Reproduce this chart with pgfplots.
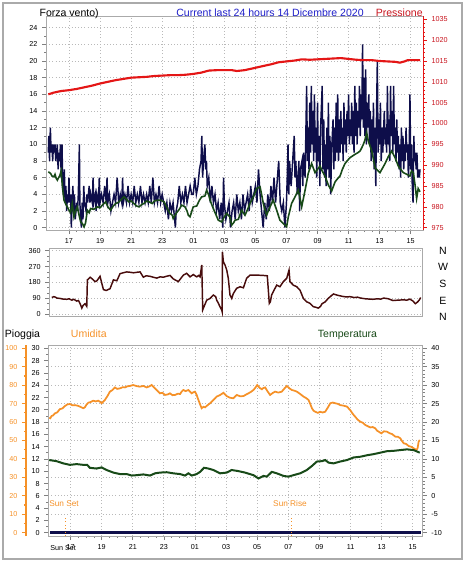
\documentclass[border=0pt]{standalone}
\usepackage{pgfplots}
\pgfplotsset{compat=1.18}
\usepackage{fontspec}
\setmainfont{Liberation Sans}
\definecolor{navyc}{RGB}{14,14,74}
\definecolor{greenc}{RGB}{24,74,24}
\definecolor{redc}{RGB}{228,22,22}
\definecolor{redt}{RGB}{200,20,30}
\definecolor{bluet}{RGB}{30,30,200}
\definecolor{brownc}{RGB}{72,12,12}
\definecolor{orangec}{RGB}{245,145,40}
\definecolor{gframe}{RGB}{170,170,170}
\definecolor{gridc}{RGB}{185,185,185}
\newcommand{\ticksz}{\fontsize{5.4}{6}\selectfont}
\newcommand{\titsz}{\fontsize{7.9}{9}\selectfont}
\newcommand{\sunsz}{\fontsize{6.2}{7}\selectfont}
\pgfplotsset{
  base/.style={scale only axis, anchor=north west,
    tick align=outside, major tick length=3pt, minor tick length=1.5pt,
    tick style={line width=0.5pt},
    tick label style={font=\ticksz},
    major grid style={dotted, gridc, line width=0.6pt},
    axis line style={draw=gframe, line width=0.6pt}},
}
\begin{document}
\begin{tikzpicture}
\useasboundingbox (0,0) rectangle (348.75pt,-421.5pt);
\draw[gframe, line width=0.9pt] (2.25pt,-2.25pt) rectangle (346.5pt,-419.25pt);
% ---------------- top panel: wind ----------------
\begin{axis}[base, at={(34.5pt,-12pt)}, width=282.75pt, height=160.5pt,
  xmin=15.52, xmax=39.79, ymin=-0.28, ymax=25.4,
  xtick={17,19,...,39}, xticklabels={17,19,21,23,01,03,05,07,09,11,13,15},
  minor x tick num=3,
  ytick={0,2,...,24}, yticklabels={0,2,4,6,8,10,12,14,16,18,20,22,24},
  minor y tick num=1, xtick pos=bottom, ytick pos=left, grid=major]
\addplot[navyc, line width=1.1pt] table[row sep=\\]{x y\\
15.67 9\\15.7 11\\15.75 8\\15.8 12\\15.85 9\\15.9 10\\15.95 8\\16.0 10\\16.05 9\\16.1 10\\16.15 8\\16.2 9\\16.25 10\\16.3 7\\16.35 9\\16.4 8\\16.45 10\\16.5 6\\16.55 10\\16.6 5\\16.65 4\\16.7 7\\16.75 3\\16.8 5\\16.85 2\\16.9 4\\16.95 3\\
17.0 6\\17.05 3\\17.1 4\\17.15 0\\17.2 3\\17.25 5\\17.3 2\\17.35 4\\17.4 1\\17.5 3\\17.55 2\\17.6 4\\17.67 10\\17.7 3\\17.75 1\\17.8 0\\17.85 3\\17.9 1\\17.95 5\\18.0 3\\18.1 2\\18.15 4\\18.2 3\\18.3 5\\18.35 3\\18.4 4\\18.5 3\\18.55 6\\18.6 3\\18.7 4\\18.75 2\\18.8 4\\18.9 3\\18.95 6\\
19.0 3\\19.1 4\\19.2 3\\19.3 5\\19.4 3\\19.45 6\\19.5 3\\19.6 4\\19.7 2\\19.8 3\\19.9 4\\20.0 3\\20.1 6\\20.2 3\\20.3 4\\20.4 3\\20.45 6\\20.5 3\\20.6 4\\20.7 3\\20.8 5\\20.9 3\\21.0 4\\21.1 3\\21.2 5\\21.3 3\\21.4 4\\21.5 3\\21.6 5\\21.7 3\\21.8 4\\21.9 3\\22.0 4\\22.1 3\\22.2 5\\22.3 3\\22.4 6\\22.5 3\\22.6 4\\22.7 3\\22.8 5\\22.9 3\\
23.0 4\\23.1 3\\23.2 2\\23.3 3\\23.4 1\\23.5 3\\23.6 2\\23.7 3\\23.85 0\\23.9 2\\24.0 3\\24.1 5\\24.2 3\\24.3 4\\24.4 3\\24.5 5\\24.6 3\\24.7 4\\24.8 5\\24.9 4\\25.0 4\\25.1 6\\25.2 4\\25.3 5\\25.4 7\\25.5 8\\25.55 11\\25.6 6\\25.7 9\\25.75 10\\25.8 7\\25.85 8\\25.9 5\\26.0 6\\26.1 3\\26.2 5\\26.3 3\\26.4 4\\26.5 2\\26.6 3\\26.7 1\\26.8 3\\26.9 0\\26.95 6\\
27.0 3\\27.1 1\\27.2 2\\27.3 3\\27.4 0\\27.5 2\\27.6 3\\27.7 1\\27.8 4\\27.9 2\\28.0 3\\28.1 1\\28.2 4\\28.3 2\\28.4 3\\28.5 4\\28.6 2\\28.7 5\\28.8 3\\28.9 4\\29.0 5\\29.1 3\\29.2 7\\29.3 4\\29.4 2\\29.5 0\\29.6 3\\29.7 1\\29.8 4\\29.9 2\\30.0 5\\30.1 3\\30.2 6\\30.3 3\\30.5 8\\30.6 3\\30.7 2\\30.8 3\\30.9 0\\
31.0 3\\31.05 6\\31.1 10\\31.15 4\\31.2 8\\31.3 5\\31.4 8\\31.5 11\\31.55 6\\31.6 8\\31.7 4\\31.8 8\\31.85 2\\31.9 7\\32.0 8\\32.05 5\\32.1 9\\32.2 6\\32.3 17\\32.35 8\\32.4 12\\32.45 7\\32.5 15\\32.55 9\\32.6 17\\32.65 10\\32.7 14\\32.75 8\\32.8 16\\32.85 9\\32.9 12\\32.95 6\\
33.0 15\\33.05 8\\33.1 11\\33.15 5\\33.2 12\\33.3 17\\33.35 7\\33.4 13\\33.45 6\\33.5 10\\33.55 5\\33.6 12\\33.65 7\\33.7 15\\33.75 6\\33.8 11\\33.85 4\\33.9 9\\34.0 13\\34.05 7\\34.1 12\\34.15 8\\34.2 15\\34.25 9\\34.3 16\\34.35 8\\34.4 13\\34.45 9\\34.5 14\\34.55 10\\34.6 12\\34.65 8\\34.7 15\\34.75 10\\34.8 13\\34.85 9\\34.9 14\\34.95 11\\
35.0 16\\35.05 10\\35.1 13\\35.15 11\\35.2 15\\35.25 10\\35.3 14\\35.35 9\\35.4 17\\35.45 11\\35.5 15\\35.55 10\\35.6 14\\35.65 12\\35.7 17\\35.75 11\\35.8 16\\35.85 13\\35.9 22\\35.95 12\\36.0 18\\36.05 11\\36.1 19\\36.15 10\\36.2 15\\36.25 12\\36.3 16\\36.35 10\\36.4 14\\36.45 8\\36.5 13\\36.55 9\\36.6 15\\36.65 7\\36.7 12\\36.75 5\\36.8 14\\36.85 20\\36.9 9\\36.95 13\\
37.0 10\\37.05 15\\37.1 8\\37.15 12\\37.2 9\\37.3 14\\37.35 10\\37.4 12\\37.45 9\\37.5 17\\37.55 10\\37.6 13\\37.65 8\\37.7 17\\37.75 11\\37.8 14\\37.85 9\\37.9 17\\37.95 10\\38.0 12\\38.05 8\\38.1 13\\38.15 9\\38.2 11\\38.25 7\\38.3 10\\38.35 6\\38.4 12\\38.45 8\\38.5 11\\38.55 7\\38.6 10\\38.65 8\\38.7 12\\38.75 9\\38.8 10\\38.85 6\\38.9 9\\38.95 16\\39.0 7\\39.05 10\\39.1 5\\39.15 3\\39.2 11\\39.25 8\\39.3 9\\39.35 7\\39.4 9\\39.45 6\\39.5 7\\39.55 6\\39.6 7\\
};
\addplot[greenc, line width=1.2pt] table[row sep=\\]{x y\\
15.67 6.7\\15.75 6.6\\15.82 6.5\\15.9 6.2\\16.03 6.1\\16.1 6.4\\16.18 5.9\\16.25 5.7\\16.33 6.0\\16.4 6.2\\16.5 6.8\\16.57 5.0\\16.68 3.3\\16.8 2.8\\16.89 2.5\\17.0 2.1\\17.1 1.8\\17.21 2.9\\17.32 1.3\\17.42 2.0\\17.54 2.5\\17.65 1.5\\17.75 0.7\\17.86 0.5\\17.97 0.1\\18.07 0.6\\18.18 2.1\\18.3 1.8\\18.39 2.3\\18.6 2.2\\18.82 2.5\\19.0 2.4\\19.15 2.7\\19.36 3.1\\19.5 2.5\\19.68 2.1\\19.85 2.6\\20.0 2.9\\20.15 3.0\\20.33 3.3\\20.54 3.7\\20.7 3.4\\20.86 3.1\\21.0 3.2\\21.18 2.9\\21.35 2.6\\21.51 2.5\\21.7 2.8\\21.83 2.9\\22.0 3.2\\22.15 3.1\\22.36 2.9\\22.5 3.2\\22.69 3.3\\22.9 3.3\\23.12 3.1\\23.33 2.3\\23.5 1.7\\23.65 1.5\\23.71 1.1\\23.93 1.8\\24.1 2.2\\24.25 2.7\\24.47 2.5\\24.6 2.0\\24.68 1.5\\24.79 1.3\\25.0 2.5\\25.22 2.6\\25.4 3.3\\25.54 3.7\\25.75 3.8\\25.86 4.5\\26.0 3.9\\26.08 3.3\\26.29 2.3\\26.45 1.6\\26.61 0.9\\26.83 0.7\\27.0 1.3\\27.15 1.7\\27.36 1.3\\27.47 0.3\\27.6 0.6\\27.69 0.9\\27.9 1.0\\28.11 2.1\\28.33 1.5\\28.5 2.2\\28.65 2.9\\28.87 3.7\\29.08 4.7\\29.3 4.9\\29.4 4.0\\29.51 2.9\\29.72 1.5\\29.94 2.5\\30.15 3.3\\30.37 2.1\\30.58 0.9\\30.8 0.5\\31.01 0.1\\31.12 1.3\\31.33 2.9\\31.55 3.7\\31.76 4.5\\31.9 3.3\\31.98 2.5\\32.2 4.5\\32.4 6.5\\32.62 7.7\\32.84 6.6\\33.0 7.0\\33.16 7.4\\33.3 6.8\\33.48 6.2\\33.7 5.1\\33.91 4.4\\34.13 5.5\\34.3 5.9\\34.45 6.2\\34.6 7.0\\34.77 7.7\\34.9 8.0\\35.09 8.4\\35.25 8.6\\35.41 8.8\\35.6 9.0\\35.74 9.2\\35.85 9.6\\35.95 10.0\\36.05 10.5\\36.16 11.4\\36.27 10.4\\36.38 9.8\\36.49 9.2\\36.6 8.2\\36.7 7.2\\36.85 6.9\\37.02 6.6\\37.2 7.2\\37.35 7.7\\37.55 8.5\\37.77 9.2\\37.88 8.8\\37.99 8.4\\38.2 7.4\\38.35 7.0\\38.53 6.6\\38.75 6.4\\38.95 6.2\\39.05 6.8\\39.17 6.6\\39.28 5.1\\39.38 3.5\\39.48 4.7\\39.6 4.3\\
};
\end{axis}
\begin{axis}[base, at={(34.5pt,-12pt)}, width=282.75pt, height=160.5pt,
  xmin=15.52, xmax=39.79, ymin=974.44, ymax=1025.8,
  axis x line=none, axis y line*=right,
  y axis line style={draw=redc, line width=0.6pt},
  ytick={975,980,...,1025}, yticklabels={975,980,985,990,995,1000,1005,1010,1015,1020,1035},
  minor y tick num=4, ytick style={redc}, yticklabel style={text=redt}]
\addplot[redc, line width=1.6pt] table[row sep=\\]{x y\\
15.67 1007.0\\16.0 1007.4\\16.5 1007.8\\17.0 1008.0\\17.5 1008.3\\18.0 1008.7\\18.5 1009.1\\19.0 1009.6\\19.5 1010.0\\20.0 1010.4\\20.5 1010.7\\21.0 1011.0\\21.5 1011.1\\22.0 1011.2\\22.5 1011.4\\23.0 1011.5\\23.5 1011.6\\24.0 1011.6\\24.5 1011.7\\25.0 1011.9\\25.5 1012.2\\26.0 1012.7\\26.5 1012.8\\27.0 1012.8\\27.5 1012.8\\27.8 1012.6\\28.3 1012.8\\28.8 1013.2\\29.5 1013.8\\30.0 1014.2\\30.5 1014.7\\31.0 1014.9\\31.5 1015.1\\32.0 1015.4\\32.5 1015.3\\33.0 1015.4\\33.5 1015.5\\34.0 1015.6\\34.5 1015.7\\35.0 1015.5\\35.5 1015.3\\36.0 1015.2\\36.5 1015.2\\37.0 1015.0\\37.5 1014.9\\38.0 1014.8\\38.3 1014.6\\38.6 1014.9\\38.8 1015.2\\39.2 1015.2\\39.6 1015.2\\
};
\end{axis}
% ---------------- middle panel: wind direction ----------------
\begin{axis}[base, at={(36.975pt,-186.225pt)}, width=280.05pt, height=50.775pt,
  xmin=15.51, xmax=39.73, ymin=-9.6, ymax=373.6,
  xtick=\empty, ytick={0,90,180,270,360}, yticklabels={0,90,180,270,360},
  minor y tick num=2, ytick pos=left, ymajorgrids]
\addplot[brownc, line width=1.1pt] table[row sep=\\]{x y\\
15.67 95\\15.8 100\\15.89 98\\16.0 92\\16.21 90\\16.4 86\\16.64 85\\16.8 88\\16.97 80\\17.1 85\\17.29 75\\17.4 78\\17.51 60\\17.62 35\\17.7 50\\17.83 60\\17.94 45\\17.98 195\\18.05 200\\18.16 210\\18.3 200\\18.48 185\\18.6 190\\18.8 215\\19.02 140\\19.2 135\\19.45 145\\19.67 195\\19.89 190\\20.1 230\\20.3 235\\20.53 240\\20.75 238\\20.97 235\\21.2 238\\21.4 240\\21.61 210\\21.8 218\\22.05 215\\22.25 210\\22.48 205\\22.7 212\\22.91 210\\23.1 215\\23.34 220\\23.56 200\\23.88 185\\24.1 210\\24.21 222\\24.42 232\\24.64 212\\24.85 225\\25.07 212\\25.2 220\\25.29 212\\25.4 279\\25.46 25\\25.5 34\\25.72 80\\25.94 90\\26.15 109\\26.3 100\\26.37 80\\26.48 62\\26.58 43\\26.69 25\\26.72 15\\26.74 354\\26.8 298\\26.91 279\\27.02 250\\27.12 204\\27.23 109\\27.34 90\\27.45 118\\27.66 147\\27.88 156\\28.1 150\\28.31 204\\28.53 222\\28.96 222\\29.39 220\\29.65 218\\29.78 62\\29.85 71\\29.93 109\\30.15 147\\30.26 165\\30.47 156\\30.69 185\\30.91 204\\31.06 250\\31.12 185\\31.34 165\\31.56 156\\31.77 137\\31.99 90\\32.2 71\\32.42 62\\32.64 43\\32.8 40\\32.96 35\\33.1 45\\33.2 60\\33.4 70\\33.6 90\\33.8 105\\33.94 115\\34.2 108\\34.5 102\\34.8 98\\35.0 100\\35.3 95\\35.5 97\\35.7 92\\36.0 88\\36.3 86\\36.5 85\\36.8 88\\37.0 86\\37.2 92\\37.5 88\\37.8 78\\38.1 80\\38.5 82\\38.7 80\\38.9 86\\39.1 75\\39.25 60\\39.4 70\\39.5 80\\39.6 95\\
};
\end{axis}
% ---------------- bottom panel ----------------
\begin{axis}[base, at={(36.225pt,-258.75pt)}, width=280.8pt, height=143.25pt,
  xmin=15.57, xmax=39.64, ymin=-1.8, ymax=101.8,
  axis line style={draw=none}, xtick={17,19,...,39}, ytick={0,10,...,100},
  xticklabels={}, yticklabels={}, major tick length=0pt, grid=major]
\addplot[orangec, line width=1.3pt] table[row sep=\\]{x y\\
15.63 62.4\\15.7 62.1\\15.78 63.3\\15.88 63.6\\15.99 64.7\\16.15 65.3\\16.31 67\\16.48 67.4\\16.64 68.7\\16.8 69.6\\16.96 69.8\\17.12 69.1\\17.28 69.2\\17.45 68.9\\17.6 68.4\\17.82 67.5\\17.92 68\\18.03 69.5\\18.14 70.5\\18.3 70.9\\18.46 71.6\\18.62 71.2\\18.78 71.6\\18.9 71.0\\19.0 70.2\\19.21 72\\19.38 74.2\\19.53 76.5\\19.7 77.4\\19.85 78.8\\20.0 78.0\\20.18 78.3\\20.35 78.9\\20.5 78.8\\20.65 79.4\\20.82 79.6\\21.03 80.1\\21.25 79.5\\21.46 79.2\\21.68 79.6\\21.89 78.8\\22.05 79.3\\22.21 80.1\\22.43 78.3\\22.6 76.8\\22.75 75.6\\22.9 75.9\\23.07 74.7\\23.25 75.0\\23.39 75.6\\23.55 74.6\\23.72 74.7\\23.9 75.4\\24.04 75.2\\24.15 76.6\\24.25 77.4\\24.4 76.8\\24.58 77.4\\24.79 75.6\\24.9 76.2\\25.0 76.5\\25.1 74.9\\25.22 72\\25.32 69.8\\25.43 67.5\\25.55 68.3\\25.65 68\\25.8 69.1\\25.97 70.2\\26.18 71.9\\26.39 73.8\\26.6 74.6\\26.83 75.9\\26.95 74.8\\27.04 74.1\\27.25 73.2\\27.47 72.9\\27.58 73.9\\27.69 74.7\\27.9 74.0\\28.12 74.1\\28.3 75.0\\28.44 75.6\\28.6 76.4\\28.76 77.4\\28.88 78.6\\29.0 80.1\\29.15 78.6\\29.3 77.8\\29.4 78.5\\29.51 78.8\\29.67 76.6\\29.83 74.7\\30.0 75.8\\30.15 76.5\\30.36 76.0\\30.58 76.5\\30.75 78.2\\30.91 79.6\\31.07 78.3\\31.23 77.4\\31.4 77.0\\31.55 76.5\\31.77 75.2\\31.98 73.8\\32.15 73.0\\32.3 72\\32.42 69.6\\32.52 67.5\\32.62 66.2\\32.73 65.6\\32.9 65.0\\33.05 65.6\\33.2 65.2\\33.37 65.6\\33.55 68.0\\33.7 70.2\\33.86 70.6\\34.02 70.2\\34.18 69.9\\34.34 69.2\\34.55 68.9\\34.77 68.4\\34.98 66.5\\35.15 64.4\\35.3 62.9\\35.46 61.3\\35.63 60.2\\35.8 59.6\\35.95 58.4\\36.1 57.8\\36.27 57.1\\36.43 57.3\\36.59 56.6\\36.7 55.4\\36.81 54.8\\36.98 53.9\\37.15 55.0\\37.34 54.8\\37.5 54.0\\37.67 53.5\\37.88 52.1\\38.05 52.0\\38.2 51.2\\38.32 49.6\\38.42 48.5\\38.58 48.1\\38.74 47\\38.9 46.6\\39.06 45.8\\39.15 45.3\\39.23 44.8\\39.31 45.8\\39.38 49.4\\39.45 50.3\\
};
\end{axis}
\begin{axis}[base, at={(36.225pt,-258.75pt)}, width=280.8pt, height=143.25pt,
  xmin=15.57, xmax=39.64, ymin=-10.9, ymax=40.9,
  axis x line=none, axis y line*=right,
  ytick={-10,-5,...,40}, yticklabels={-10,-5,0,5,10,15,20,25,30,35,40},
  minor y tick num=4]
\addplot[greenc, line width=1.5pt] table[row sep=\\]{x y\\
15.63 9.7\\16.1 9.4\\16.53 8.8\\16.96 8.4\\17.39 8.6\\17.82 8.4\\18.07 8.4\\18.24 7.6\\18.67 7.4\\19.0 7.7\\19.32 7.0\\19.75 6.3\\20.18 5.9\\20.61 5.9\\20.93 5.5\\21.25 5.6\\21.68 5.8\\22.11 5.5\\22.43 6.1\\22.75 6.3\\23.18 6.4\\23.61 6.1\\24.04 5.9\\24.36 5.5\\24.58 6.1\\24.79 5.5\\25.11 5.9\\25.33 6.5\\25.58 7.6\\25.86 7.4\\26.18 7.0\\26.61 6.1\\27.04 6.3\\27.36 7.0\\27.79 6.7\\28.22 6.3\\28.76 5.6\\29.08 4.7\\29.4 5.4\\29.62 5.2\\29.94 6.5\\30.26 6.1\\30.69 5.4\\31.01 5.2\\31.33 5.6\\31.76 6.1\\32.19 7.0\\32.52 8.1\\32.84 9.3\\33.16 9.4\\33.37 9.7\\33.59 9.0\\33.91 8.8\\34.34 9.3\\34.77 9.7\\35.2 10.4\\35.63 10.6\\36.06 11.0\\36.48 11.3\\36.91 11.7\\37.34 12.1\\37.77 12.2\\38.2 12.4\\38.63 12.6\\39.06 12.4\\39.45 11.7\\
};
\end{axis}
\begin{axis}[base, at={(36.225pt,-258.75pt)}, width=280.8pt, height=143.25pt,
  xmin=15.57, xmax=39.64, ymin=-0.54, ymax=30.54, clip=false,
  xtick={17,19,...,39}, xticklabels={17,19,21,23,01,03,05,07,09,11,13,15},
  minor x tick num=3,
  ytick={0,2,...,30}, yticklabels={0,2,4,6,8,10,12,14,16,18,20,22,24,26,28,30},
  minor y tick num=1, xtick pos=bottom, ytick pos=left]
\addplot[navyc, line width=2pt] table[row sep=\\]{x y\\ 15.7 0\\ 39.55 0\\};
\draw[orangec, dotted, line width=0.6pt] (axis cs:16.66,-0.54) -- (axis cs:16.66,2.4);
\draw[orangec, dotted, line width=0.6pt] (axis cs:31.21,-0.54) -- (axis cs:31.21,2.4);
\node[anchor=base west, text=orangec, font=\sunsz, inner sep=0pt] at (axis cs:15.62,4.23) {Sun Set};
\node[anchor=base, text=orangec, font=\sunsz, inner sep=0pt] at (axis cs:31.11,4.23) {Sun Rise};
\end{axis}
\begin{axis}[base, at={(19.5pt,-258.75pt)}, width=7.5pt, height=143.25pt,
  xmin=0, xmax=1, ymin=-1.8, ymax=101.8,
  axis x line=none, axis y line*=left,
  y axis line style={draw=orangec, line width=1.1pt},
  ytick={0,10,...,100}, yticklabels={0,10,20,30,40,50,60,70,80,90,100},
  minor y tick num=1, ytick style={orangec, line width=0.8pt}, yticklabel style={text=orangec}]
\end{axis}
% ---------------- texts ----------------
\node[anchor=base west, font=\titsz, inner sep=0pt] at (29.5pt,-12.5pt) {Forza vento)};
\node[anchor=base, font=\titsz, text=bluet, inner sep=0pt] at (202.5pt,-12.5pt) {Current last 24 hours 14 Dicembre 2020};
\node[anchor=base, font=\titsz, text=redt, inner sep=0pt] at (299.4pt,-12.5pt) {Pressione};
\node[anchor=base, font=\titsz, inner sep=0pt] at (16.9pt,-253.1pt) {Pioggia};
\node[anchor=base, font=\titsz, text=orangec, inner sep=0pt] at (66.6pt,-253.1pt) {Umidita};
\node[anchor=base, font=\titsz, text=greenc, inner sep=0pt] at (260.6pt,-253.1pt) {Temperatura};
\node[font=\titsz, inner sep=0pt] at (332.25pt,-188.0pt) {N};
\node[font=\titsz, inner sep=0pt] at (332.25pt,-200.5pt) {W};
\node[font=\titsz, inner sep=0pt] at (332.25pt,-213.2pt) {S};
\node[font=\titsz, inner sep=0pt] at (332.25pt,-225.75pt) {E};
\node[font=\titsz, inner sep=0pt] at (332.25pt,-237.5pt) {N};
\node[anchor=base west, font=\ticksz, inner sep=0pt] at (37.5pt,-412.5pt) {Sun Set};
\end{tikzpicture}
\end{document}
